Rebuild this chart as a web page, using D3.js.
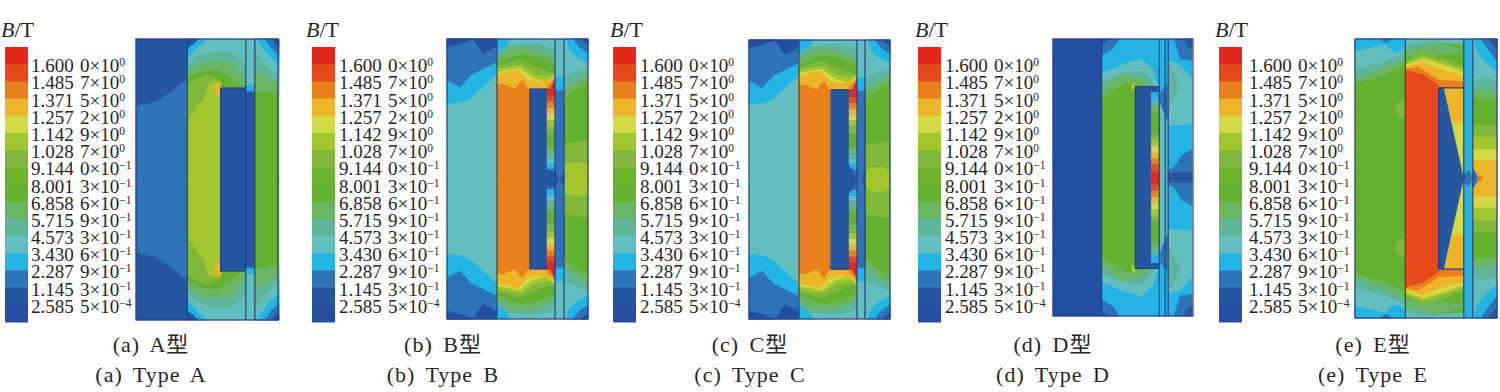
<!DOCTYPE html>
<html>
<head>
<meta charset="utf-8">
<script src="https://cdn.jsdelivr.net/npm/d3@7/dist/d3.min.js"></script>
<style>
    html, body { margin: 0; padding: 0; background: #fff; }
    text { font-family: "Liberation Serif", serif; fill: #262626; }
    .cjk { font-family: "Liberation Serif", "Noto Sans CJK SC", serif; }
</style>
</head>
<body>
<div id="chart"></div>
<script>
//contour levels, lowest first
const levelColors = ["#23509f", "#27579f", "#2f72b8", "#23b4e2", "#64bfbf", "#5fb59a",
    "#6bb562", "#63b12e", "#6cb42f", "#80b83a", "#a2c62f", "#d4da45", "#edb62a", "#e8801a", "#e64a1e", "#e2261e"];

//legend text, top to bottom
const legendMantissa = ["1.600 0", "1.485 7", "1.371 5", "1.257 2", "1.142 9", "1.028 7", "9.144 0", "8.001 3",
    "6.858 6", "5.715 9", "4.573 3", "3.430 6", "2.287 9", "1.145 3", "2.585 5"];
const legendExponent = ["0", "0", "0", "0", "0", "0", "\u22121", "\u22121", "\u22121", "\u22121", "\u22121", "\u22121", "\u22121", "\u22121", "\u22124"];

const captionsCn = ["(a) A型", "(b) B型", "(c) C型", "(d) D型", "(e) E型"];
const captionsEn = ["(a) Type A", "(b) Type B", "(c) Type C", "(d) Type D", "(e) Type E"];

//field regions: [level, u,v, u,v ...], painted in order, upper half only (v = 140 is the symmetry line)
const fieldA = [
    [1, 0,0, 51,0, 51,140, 0,140],
    [2, 0,67, 20,63, 35,52, 51,40, 51,140, 0,140],
    [4, 51,0, 109,0, 109,140, 51,140],
    [3, 51,0, 70,0, 66,4, 56,13, 51,21],
    [1, 51,0, 62,0, 57,5, 51,9],
    [5, 51,28, 60,18, 75,13, 95,13, 103,20, 109,27, 109,140, 51,140],
    [6, 51,32, 65,24, 78,22, 95,24, 103,34, 109,44, 109,140, 51,140],
    [7, 51,38, 65,33, 78,30, 90,36, 98,43, 109,50, 109,140, 51,140],
    [9, 51,44, 62,38, 72,36, 82,40, 88,50, 88,140, 51,140],
    [10, 52,81, 62,66, 68,57, 73,42, 84,42, 84,140, 51,140],
    [12, 78,45, 84,44, 84,57, 79,57],
    [4, 109,0, 118,0, 118,48, 109,48],
    [3, 109,46, 118,46, 118,52, 109,52],
    [1, 109,52, 118,52, 118,140, 109,140],
    [7, 118,0, 142,0, 142,140, 118,140],
    [6, 118,0, 142,0, 142,55, 118,51],
    [5, 118,0, 142,0, 142,43, 130,38, 118,30],
    [4, 118,0, 142,0, 142,36, 130,28, 120,15],
    [3, 120,0, 142,0, 142,26, 133,18, 125,8],
    [2, 128,0, 142,0, 142,16, 135,10],
    [0, 136,0, 142,0, 142,7, 138,5],
    [1, 84,49, 109,49, 109,140, 84,140]
];

//B and C have almost the same field, they differ at the notch and the right side
const fieldBC = [
    [4, 0,0, 50,0, 50,140, 0,140],
    [3, 0,0, 50,0, 50,35, 25,58, 16,63, 0,65],
    [2, 0,0, 50,0, 50,23, 25,35, 13,48, 0,41],
    [0, 0,0, 50,0, 50,7, 36,15, 26,0],
    [0, 0,0, 26,0, 13,5, 0,8],
    [4, 50,0, 108,0, 108,140, 50,140],
    [3, 50,0, 65,0, 55,12, 50,12],
    [5, 50,15, 60,6, 90,4, 108,10, 108,140, 50,140],
    [6, 50,18, 65,10, 80,9, 100,15, 108,19, 108,140, 50,140],
    [7, 50,25, 60,20, 75,15, 90,18, 108,25, 108,140, 50,140],
    [9, 50,27, 73,21, 93,30, 108,35, 108,140, 50,140],
    [10, 50,30, 73,26, 88,35, 103,38, 108,33, 108,140, 50,140],
    [11, 50,33, 73,29, 84,38, 98,43, 108,36, 108,140, 50,140],
    [12, 50,36, 71,31, 81,41, 93,44, 108,38, 108,140, 50,140],
    [13, 50,46, 56,45, 68,50, 75,41, 81,50, 83,50, 83,140, 50,140],
    [13, 100,47, 105,43, 108,38, 108,50, 100,50],
    [15, 104,48, 108,41, 108,50, 104,50],
    [2, 108,38, 117,38, 117,140, 108,140],
    [4, 108,0, 117,0, 117,38, 108,38],
    [3, 108,38, 117,38, 117,51, 108,51],
    [7, 117,0, 141,0, 141,140, 117,140],
    [6, 117,0, 141,0, 141,41, 117,60],
    [5, 117,0, 141,0, 141,34, 117,50],
    [4, 117,0, 141,0, 141,27, 130,32, 117,38],
    [3, 119,0, 141,0, 141,23, 130,18, 122,10],
    [2, 126,0, 141,0, 141,14, 132,8],
    [0, 134,0, 141,0, 141,6],
    [9, 117,105, 141,101, 141,140, 117,140],
    [1, 83,50, 108,50, 108,140, 83,140]
];

const fieldB = fieldBC.concat([
    [10, 117,125, 130,123, 141,125, 141,140, 117,140],
    [1, 100,131, 103,131, 108,135, 108,140, 100,140],
    [1, 108,132, 112,140, 108,140],
    [1, 117,132, 113,140, 117,140]
]);

const fieldC = fieldBC.concat([
    [10, 117,133, 123,128, 135,128, 141,134, 141,140, 117,140],
    [1, 100,126, 103,130, 108,140, 100,140],
    [1, 116,132, 113,140, 116,140]
]);

const fieldD = [
    [0, 0,0, 49,0, 49,140, 0,140],
    [3, 49,0, 107,0, 107,140, 49,140],
    [2, 49,0, 67,0, 60,10, 49,16],
    [1, 49,0, 57,0, 49,6],
    [4, 49,34, 70,26, 88,20, 100,30, 107,50, 107,140, 49,140],
    [5, 49,42, 70,34, 90,32, 107,52, 107,140, 49,140],
    [6, 49,51, 70,36, 90,41, 107,55, 107,140, 49,140],
    [7, 49,60, 75,44, 87,46, 87,140, 49,140],
    [10, 79,45, 83,45, 84,50, 79,52],
    [1, 83,48, 107,48, 107,54, 99,54, 99,140, 83,140],
    [3, 107,0, 116,0, 116,140, 107,140],
    [2, 107,55, 116,45, 116,85, 107,63],
    [4, 107,64, 116,85, 116,140, 107,140],
    [3, 116,0, 140,0, 140,140, 116,140],
    [4, 116,22, 128,26, 140,40, 140,86, 116,88],
    [5, 116,26, 125,38, 127,50, 116,70],
    [2, 122,0, 140,0, 140,22, 128,20],
    [1, 132,0, 140,0, 140,10, 135,7],
    [2, 140,112, 130,117, 122,130, 116,133, 116,140, 140,140],
    [1, 116,135, 140,135, 140,140, 116,140]
];

const fieldE = [
    [7, 0,0, 50,0, 50,140, 0,140],
    [6, 0,0, 50,0, 50,25, 33,35, 0,45],
    [5, 0,0, 50,0, 50,20, 20,32, 0,40],
    [4, 0,0, 50,0, 50,14, 30,22, 0,30],
    [3, 0,0, 50,0, 50,8, 40,14, 30,5, 0,12],
    [2, 25,0, 37,0, 31,4],
    [9, 39,70, 45,62, 50,63, 50,76, 45,80],
    [7, 50,0, 108,0, 108,140, 50,140],
    [4, 50,0, 108,0, 108,5, 80,3, 50,6],
    [5, 50,5, 80,2, 108,12, 50,12],
    [6, 50,12, 80,4, 108,14, 50,18],
    [9, 50,22, 68,13, 90,20, 108,27, 108,140, 50,140],
    [10, 50,24, 68,17, 90,24, 108,30, 108,140, 50,140],
    [11, 50,26, 68,20, 92,27, 108,33, 108,140, 50,140],
    [12, 50,28, 67,23, 90,32, 108,36, 108,140, 50,140],
    [13, 50,30, 63,28, 83,41, 108,43, 108,50, 83,50, 83,140, 50,140],
    [14, 50,31, 68,36, 83,46, 83,140, 50,140],
    [12, 83,49, 108,49, 108,140, 83,140],
    [11, 97,84, 108,84, 108,140, 105,140],
    [11, 83,49, 88,49, 108,131, 108,140, 106,140, 83,60],
    [1, 83,49, 88,49, 108,140, 83,140],
    [3, 108,0, 117,0, 117,140, 108,140],
    [2, 113,132, 117,140, 108,140, 108,136],
    [7, 117,0, 141,0, 141,140, 117,140],
    [6, 117,0, 141,0, 141,60, 117,60],
    [5, 117,0, 141,0, 141,52, 117,50],
    [4, 117,0, 141,0, 141,42, 130,38, 117,40],
    [3, 118,0, 141,0, 141,33, 128,22, 120,10],
    [2, 125,0, 141,0, 141,22, 132,10],
    [1, 133,0, 141,0, 141,10, 137,6],
    [9, 117,86, 141,86, 141,140, 117,140],
    [10, 117,98, 141,98, 141,140, 117,140],
    [11, 117,111, 141,111, 141,140, 117,140],
    [12, 117,122, 141,122, 141,140, 117,140],
    [2, 117,130, 124,140, 117,140],
    [13, 121,140, 124,136, 127,140]
];

//hot stripe in front of the block: [level, end v]
const stripeBC = [[15,57],[14,63],[13,69],[12,75],[11,81],[10,87],[9,95],[7,108],[6,114],[5,119],[4,124],[3,130],[2,140]];
const stripeD = [[3,62],[5,68],[6,74],[7,96],[9,101],[10,108],[11,115],[12,121],[13,127],[14,134],[15,140]];

const fields = [fieldA, fieldB, fieldC, fieldD, fieldE];
const stripes = [null, stripeBC, stripeBC, stripeD, null];
//start and end of the stripe in u, and its first v
const stripeSpans = [null, [100, 108, 50], [100, 108, 50], [99, 107, 54], null];
//vertical lines in u, full height
const panelLines = [[51, 109, 118], [50, 108, 117], [50, 108, 116], [49, 107, 113, 116], [50, 108, 117]];
//the block outline, left, right, top
const blockOutline = [[84, 109, 49], [83, 100, 50], [82, 100, 50], [83, 107, 48], [83, 108, 49]];

//page layout
const layout = [
    {x: 136, y: 39, w: 142, h: 281, barX: 5, labelX: 31, titleX: 1, capX: 151},
    {x: 447, y: 39, w: 141, h: 280, barX: 312, labelX: 339, titleX: 306, capX: 443},
    {x: 749, y: 40, w: 141, h: 279, barX: 613, labelX: 640, titleX: 610, capX: 750},
    {x: 1053, y: 39, w: 140, h: 277, barX: 918, labelX: 945, titleX: 915, capX: 1053},
    {x: 1355, y: 39, w: 142, h: 279, barX: 1219, labelX: 1249, titleX: 1215, capX: 1373}
];
const barW = 23, barTop = 47, barH = 275;
const lineColor = "#2b3d85";

const svg = d3.select("#chart").append("svg")
    .attr("width", 1500)
    .attr("height", 392)
    .style("display", "block");

svg.append("defs").append("filter")
    .attr("id", "soft")
    .append("feGaussianBlur")
    .attr("stdDeviation", 0.5);

const barScale = d3.scaleBand()
    .domain(d3.range(levelColors.length - 1, -1, -1))
    .range([barTop, barTop + barH]);

layout.forEach((p, i) => {
    //legend title
    let title = svg.append("text")
        .attr("x", p.titleX)
        .attr("y", 37)
        .style("font-size", "22px");
    title.append("tspan").style("font-style", "italic").text("B");
    title.append("tspan").text("/T");

    //colour bar
    svg.append("g").attr("filter", "url(#soft)")
        .selectAll("rect")
        .data(barScale.domain())
        .enter()
        .append("rect")
        .attr("x", p.barX)
        .attr("y", d => barScale(d))
        .attr("width", barW)
        .attr("height", barScale.bandwidth() + 0.5)
        .style("fill", d => levelColors[d]);

    //legend labels sit on the band edges
    let labels = svg.append("g").selectAll("text")
        .data(legendMantissa)
        .enter()
        .append("text")
        .attr("x", p.labelX)
        .attr("y", (d, j) => barScale(levelColors.length - 2 - j) + 8)
        .style("font-size", "19px")
        .style("word-spacing", "1.5px");
    labels.append("tspan").text(d => d + "\u00d710");
    labels.append("tspan")
        .attr("dy", -6)
        .style("font-size", "11.5px")
        .text((d, j) => legendExponent[j]);

    drawField(p, i);

    //captions
    svg.append("text")
        .attr("class", "cjk")
        .attr("x", p.capX)
        .attr("y", 352)
        .attr("text-anchor", "middle")
        .style("font-size", "22px")
        .style("letter-spacing", "1px")
        .style("word-spacing", "4px")
        .text(captionsCn[i]);
    svg.append("text")
        .attr("x", p.capX)
        .attr("y", 382)
        .attr("text-anchor", "middle")
        .style("font-size", "22px")
        .style("letter-spacing", "1px")
        .style("word-spacing", "4px")
        .text(captionsEn[i]);
});

function drawField(p, i) {
    let xs = d3.scaleLinear().domain([0, 141]).range([p.x, p.x + p.w]);
    let ys = d3.scaleLinear().domain([0, 280]).range([p.y, p.y + p.h]);
    let line = d3.line().x(d => xs(d[0])).y(d => ys(d[1]));

    let g = svg.append("g").attr("filter", "url(#soft)");

    //every region also gets its mirror image below v = 140, a small overlap hides the seam
    let paintRegion = (level, pts) => {
        let top = pts.map(d => [d[0], d[1] === 140 ? 141 : d[1]]);
        g.append("path")
            .attr("d", line(top) + "Z")
            .style("fill", levelColors[level])
            .style("stroke", levelColors[level])
            .style("stroke-width", 0.4);
        g.append("path")
            .attr("d", line(top.map(d => [d[0], 280 - d[1]])) + "Z")
            .style("fill", levelColors[level])
            .style("stroke", levelColors[level])
            .style("stroke-width", 0.4);
    };

    fields[i].forEach(r => {
        let pts = [];
        for (let k = 1; k < r.length; k += 2)
            pts.push([r[k], r[k + 1]]);
        paintRegion(r[0], pts);
    });

    if (stripes[i]) {
        let [u0, u1, v0] = stripeSpans[i];
        let from = v0;
        stripes[i].forEach(s => {
            paintRegion(s[0], [[u0, from], [u1, from], [u1, s[1]], [u0, s[1]]]);
            from = s[1];
        });
        if (i === 1 || i === 2) {
            //notch of the pole over the stripe
            fields[i].slice(-3).forEach(r => {
                let pts = [];
                for (let k = 1; k < r.length; k += 2)
                    pts.push([r[k], r[k + 1]]);
                paintRegion(r[0], pts);
            });
        }
    }

    //outlines
    let frameLines = g.append("g")
        .style("stroke", lineColor)
        .style("stroke-width", 1.2)
        .style("fill", "none");
    panelLines[i].forEach(u => {
        frameLines.append("line")
            .attr("x1", xs(u)).attr("x2", xs(u))
            .attr("y1", ys(0)).attr("y2", ys(280));
    });
    let [bl, br, bt] = blockOutline[i];
    frameLines.append("path")
        .attr("d", line([[br, bt], [bl, bt], [bl, 280 - bt], [br, 280 - bt]]));
    frameLines.append("rect")
        .attr("x", xs(0)).attr("y", ys(0))
        .attr("width", xs(141) - xs(0)).attr("height", ys(280) - ys(0));
}
</script>
</body>
</html>
